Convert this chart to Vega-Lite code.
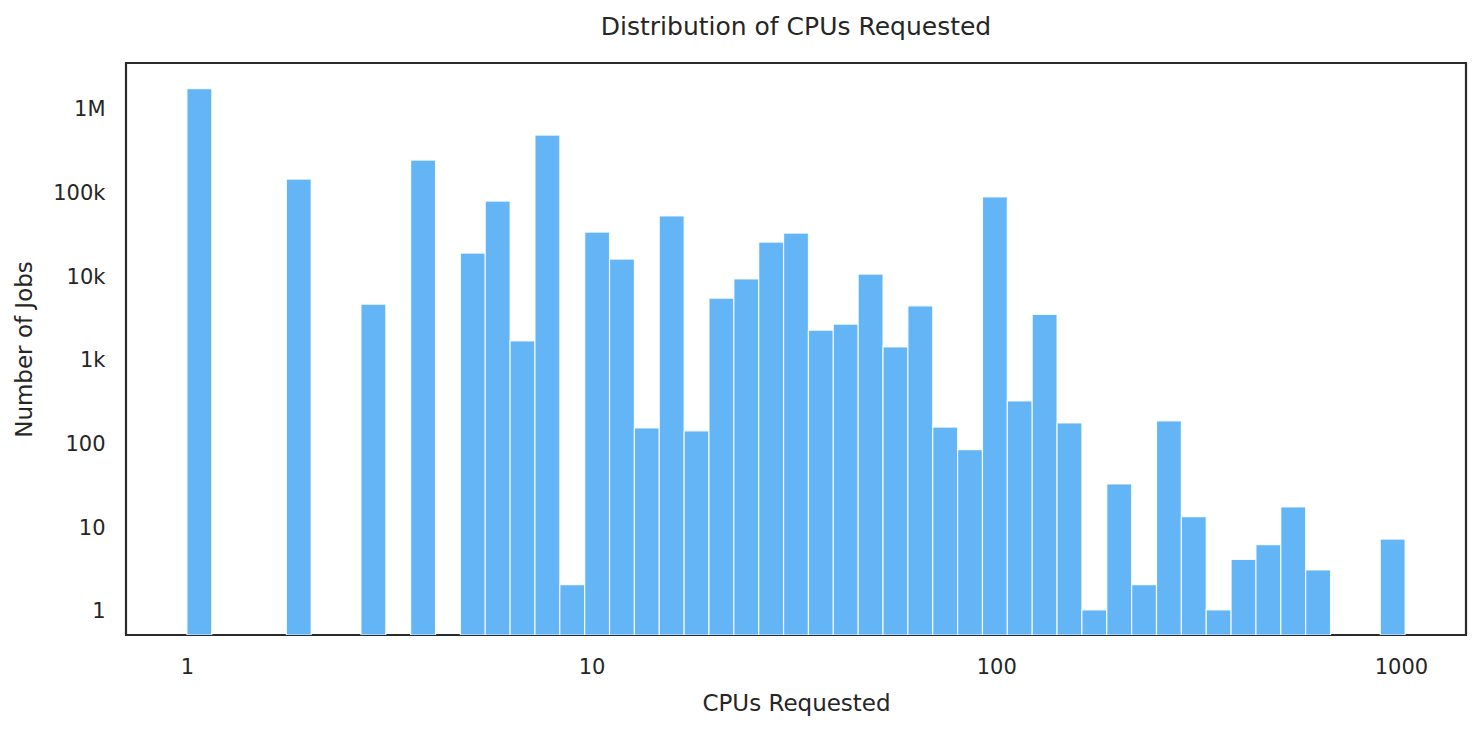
{
  "$schema": "https://vega.github.io/schema/vega-lite/v6.json",
  "autosize": {"type": "none"},
  "width": 1340,
  "height": 572,
  "padding": {"left": 126, "top": 63, "right": 14, "bottom": 95},
  "background": "white",
  "title": {
    "text": "Distribution of CPUs Requested",
    "anchor": "middle",
    "font": "DejaVu Sans",
    "fontSize": 25,
    "fontWeight": "normal",
    "color": "#262626",
    "offset": 23
  },
  "config": {
    "view": {"stroke": "#2a2a2a", "strokeWidth": 2.2},
    "axis": {
      "grid": false,
      "domain": false,
      "ticks": false,
      "labelFont": "DejaVu Sans",
      "labelFontSize": 21,
      "labelColor": "#262626",
      "titleFont": "DejaVu Sans",
      "titleFontSize": 23,
      "titleFontWeight": "normal",
      "titleColor": "#262626"
    }
  },
  "data": {
    "values": [
      {"bin_start": 1.0, "bin_end": 1.152, "count": 1700000},
      {"bin_start": 1.761, "bin_end": 2.028, "count": 141000},
      {"bin_start": 2.692, "bin_end": 3.101, "count": 4500},
      {"bin_start": 3.572, "bin_end": 4.115, "count": 238000},
      {"bin_start": 4.740, "bin_end": 5.460, "count": 18400},
      {"bin_start": 5.460, "bin_end": 6.290, "count": 77000},
      {"bin_start": 6.290, "bin_end": 7.246, "count": 1640},
      {"bin_start": 7.246, "bin_end": 8.347, "count": 473000},
      {"bin_start": 8.347, "bin_end": 9.615, "count": 2},
      {"bin_start": 9.615, "bin_end": 11.076, "count": 32800},
      {"bin_start": 11.076, "bin_end": 12.759, "count": 15600},
      {"bin_start": 12.759, "bin_end": 14.698, "count": 149},
      {"bin_start": 14.698, "bin_end": 16.932, "count": 51000},
      {"bin_start": 16.932, "bin_end": 19.504, "count": 138},
      {"bin_start": 19.504, "bin_end": 22.468, "count": 5300},
      {"bin_start": 22.468, "bin_end": 25.883, "count": 9000},
      {"bin_start": 25.883, "bin_end": 29.816, "count": 24900},
      {"bin_start": 29.816, "bin_end": 34.345, "count": 31900},
      {"bin_start": 34.345, "bin_end": 39.565, "count": 2200},
      {"bin_start": 39.565, "bin_end": 45.577, "count": 2600},
      {"bin_start": 45.577, "bin_end": 52.503, "count": 10300},
      {"bin_start": 52.503, "bin_end": 60.481, "count": 1390},
      {"bin_start": 60.481, "bin_end": 69.669, "count": 4300},
      {"bin_start": 69.669, "bin_end": 80.256, "count": 153},
      {"bin_start": 80.256, "bin_end": 92.452, "count": 82},
      {"bin_start": 92.452, "bin_end": 106.501, "count": 86000},
      {"bin_start": 106.501, "bin_end": 122.685, "count": 314},
      {"bin_start": 122.685, "bin_end": 141.324, "count": 3400},
      {"bin_start": 141.324, "bin_end": 162.8, "count": 171},
      {"bin_start": 162.8, "bin_end": 187.538, "count": 1},
      {"bin_start": 187.538, "bin_end": 216.036, "count": 32},
      {"bin_start": 216.036, "bin_end": 248.866, "count": 2},
      {"bin_start": 248.866, "bin_end": 286.675, "count": 181},
      {"bin_start": 286.675, "bin_end": 330.238, "count": 13},
      {"bin_start": 330.238, "bin_end": 380.421, "count": 1},
      {"bin_start": 380.421, "bin_end": 438.229, "count": 4},
      {"bin_start": 438.229, "bin_end": 504.824, "count": 6},
      {"bin_start": 504.824, "bin_end": 581.518, "count": 17},
      {"bin_start": 581.518, "bin_end": 669.886, "count": 3},
      {"bin_start": 888.945, "bin_end": 1024, "count": 7}
    ]
  },
  "mark": {"type": "rect", "fill": "#64b5f6", "stroke": "#ffffff", "strokeWidth": 1.2, "strokeOpacity": 0.85, "clip": true},
  "encoding": {
    "x": {
      "field": "bin_start",
      "type": "quantitative",
      "scale": {"type": "log", "domain": [0.7071, 1448], "nice": false},
      "axis": {
        "title": "CPUs Requested",
        "values": [1, 10, 100, 1000],
        "format": "d",
        "labelPadding": 21,
        "titlePadding": 15
      }
    },
    "x2": {"field": "bin_end"},
    "y": {
      "field": "count",
      "type": "quantitative",
      "scale": {"type": "log", "domain": [0.5, 3440000], "nice": false},
      "axis": {
        "title": "Number of Jobs",
        "values": [1, 10, 100, 1000, 10000, 100000, 1000000],
        "labelExpr": "datum.value >= 1000000 ? format(datum.value / 1000000, 'd') + 'M' : datum.value >= 1000 ? format(datum.value / 1000, 'd') + 'k' : format(datum.value, 'd')",
        "labelPadding": 21,
        "labelOffset": 2,
        "titlePadding": 16
      }
    },
    "y2": {"datum": 0.5}
  }
}
